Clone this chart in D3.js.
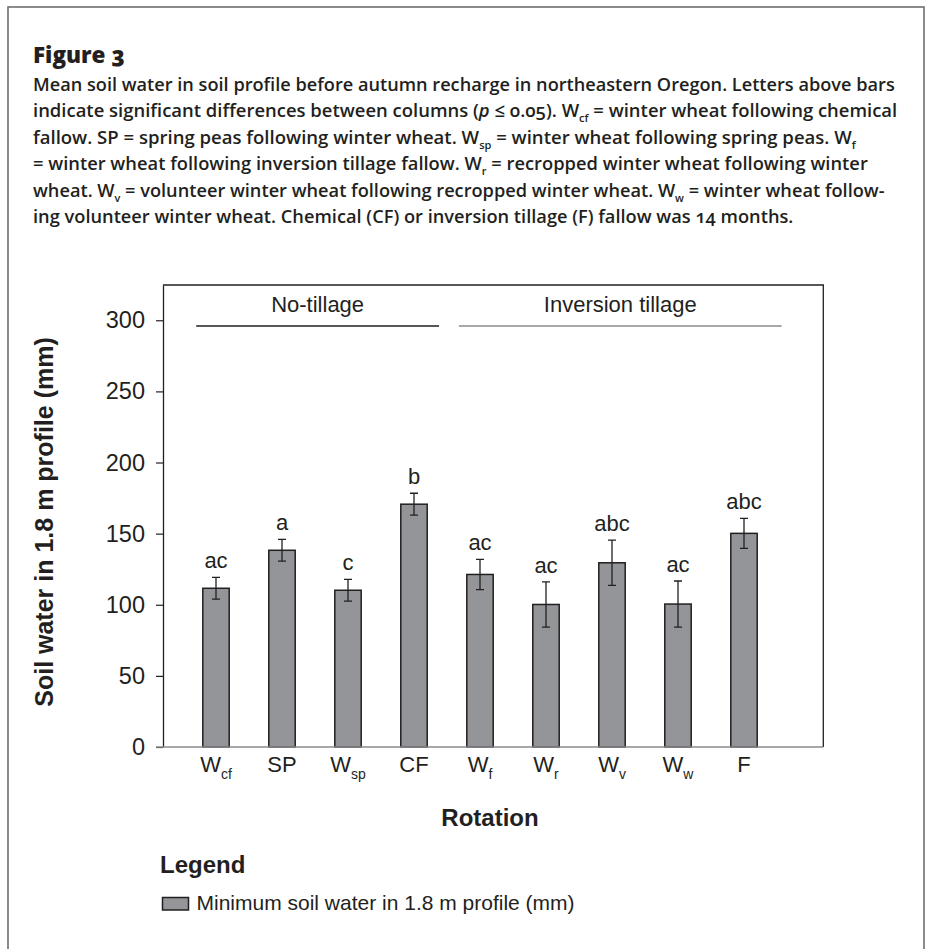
<!DOCTYPE html>
<html><head><meta charset="utf-8">
<script src="https://cdn.jsdelivr.net/npm/d3@7"></script>
<style>
body{margin:0;background:#fff}
svg{display:block}
</style>
</head><body>
<svg id="c" width="926" height="949"></svg>
<script>
// ---- data ----
const categories = ["Wcf","SP","Wsp","CF","Wf","Wr","Wv","Ww","F"];
const labelMain  = ["W","SP","W","CF","W","W","W","W","F"];
const labelSub   = ["cf","","sp","","f","r","v","w",""];
const values     = [111.6, 138.3, 110.2, 170.7, 121.3, 100.2, 129.5, 100.5, 150.2];
const errors     = [7.6, 7.6, 7.6, 7.7, 10.6, 15.9, 15.9, 16.2, 10.6];
const letters    = ["ac","a","c","b","ac","ac","abc","ac","abc"];
const yTicks     = [0, 50, 100, 150, 200, 250, 300];
const groupNames = ["No-tillage","Inversion tillage"];
const groupFirst = ["Wcf","Wf"];
const groupLast  = ["CF","F"];
const groupLineValue = 296;
const legendLabel = "Minimum soil water in 1.8 m profile (mm)";
const xTitle = "Rotation";
const yTitle = "Soil water in 1.8 m profile (mm)";
const figTitle = "Figure 3";
const captionLines = [
  [["Mean soil water in soil profile before autumn recharge in northeastern Oregon. Letters above bars","n"]],
  [["indicate significant differences between columns (","n"],["p","i"],[" \u2264 0.05). W","n"],["cf","s"],[" = winter wheat following chemical","n"]],
  [["fallow. SP = spring peas following winter wheat. W","n"],["sp","s"],[" = winter wheat following spring peas. W","n"],["f","s"]],
  [["= winter wheat following inversion tillage fallow. W","n"],["r","s"],[" = recropped winter wheat following winter","n"]],
  [["wheat. W","n"],["v","s"],[" = volunteer winter wheat following recropped winter wheat. W","n"],["w","s"],[" = winter wheat follow-","n"]],
  [["ing volunteer winter wheat. Chemical (CF) or inversion tillage (F) fallow was 14 months.","n"]]
];
const captionWidths = [862, 865, 823, 835, 852, 761];

// ---- layout ----
const ink = "#231f20";
const svg = d3.select("#c");
const plot = {left:163, right:823.3, top:285, bottom:747};

// outer border
svg.append("rect").attr("x",8).attr("y",7).attr("width",916).attr("height",1000)
  .attr("fill","none").attr("stroke","#6d6e71").attr("stroke-width",1.6);

function fit(sel, target){
  const w = sel.node().getComputedTextLength();
  return w > 0 ? target / w : 1;
}

// title
const t = svg.append("text").attr("font-family","'Open Sans','Noto Sans',sans-serif")
  .attr("font-weight",800).attr("font-size",22).attr("fill",ink)
  .style("font-variant-numeric","oldstyle-nums").text(figTitle);
t.attr("transform",`translate(33,63) scale(${fit(t,92)},1)`);

// caption
captionLines.forEach((segs,i)=>{
  const tx = svg.append("text").attr("font-family","'Open Sans','Noto Sans',sans-serif")
    .attr("font-weight",600).attr("font-size",18.5).attr("fill",ink)
    .style("font-variant-numeric","oldstyle-nums");
  let shifted = false;
  segs.forEach(([s,k])=>{
    const ts = tx.append("tspan").text(s);
    if(k==="s"){ ts.attr("font-size",11).attr("dy",5); shifted = true; }
    else { if(shifted){ ts.attr("dy",-5); shifted=false; } if(k==="i") ts.attr("font-style","italic"); }
  });
  const sx = fit(tx, captionWidths[i]);
  tx.attr("transform",`translate(33,${91 + i*26.4}) scale(${sx},1)`);
});

// scales
const x = d3.scaleBand().domain(categories).range([183,777]).paddingInner(0.6).paddingOuter(0.3);
const y = d3.scaleLinear().domain([0,324.8]).range([plot.bottom, plot.top]);

// frame (top, right)
svg.append("path").attr("d",`M${plot.left},${plot.top}H${plot.right}V${plot.bottom}`)
  .attr("fill","none").attr("stroke",ink).attr("stroke-width",1.3);

// y axis
const ya = svg.append("g").attr("transform",`translate(${plot.left},0)`)
  .call(d3.axisLeft(y).tickValues(yTicks).tickSize(7).tickPadding(11).tickSizeOuter(0));
ya.select(".domain").attr("stroke",ink).attr("stroke-width",1.3);
ya.selectAll(".tick line").attr("stroke",ink).attr("stroke-width",1.2);
ya.selectAll(".tick text").attr("font-family","'Liberation Sans',Arial,sans-serif")
  .attr("font-size",23.5).attr("fill",ink);

// bars
svg.append("g").selectAll("rect").data(categories).join("rect")
  .attr("x",d=>x(d)).attr("width",x.bandwidth())
  .attr("y",(d,i)=>y(values[i])).attr("height",(d,i)=>y(0)-y(values[i]))
  .attr("fill","#939598").attr("stroke",ink).attr("stroke-width",1.5);

// error bars
const eb = svg.append("g").attr("stroke",ink).attr("stroke-width",1.3).attr("fill","none");
categories.forEach((c,i)=>{
  const cx = x(c)+x.bandwidth()/2;
  const y1 = y(values[i]+errors[i]), y2 = y(values[i]-errors[i]);
  eb.append("path").attr("d",`M${cx},${y1}V${y2}M${cx-4},${y1}H${cx+4}M${cx-4},${y2}H${cx+4}`);
});

// significance letters
svg.append("g").selectAll("text").data(categories).join("text")
  .attr("x",d=>x(d)+x.bandwidth()/2)
  .attr("y",(d,i)=>y(values[i]+errors[i])-9)
  .attr("text-anchor","middle").attr("font-family","'Liberation Sans',Arial,sans-serif")
  .attr("font-size",22).attr("fill",ink).text((d,i)=>letters[i]);

// x axis
const xa = svg.append("g").attr("transform",`translate(0,${plot.bottom})`)
  .call(d3.axisBottom(x).tickSize(0).tickPadding(9));
xa.select(".domain").remove();
xa.selectAll(".tick text").each(function(d){
  const i = categories.indexOf(d);
  const s = d3.select(this).text(null).attr("font-family","'Liberation Sans',Arial,sans-serif")
    .attr("font-size",22).attr("fill",ink);
  s.append("tspan").text(labelMain[i]);
  if(labelSub[i]) s.append("tspan").attr("font-size",14).attr("dy",7).text(labelSub[i]);
});
svg.append("line").attr("x1",156).attr("x2",plot.right).attr("y1",plot.bottom).attr("y2",plot.bottom)
  .attr("stroke","#8a8b8d").attr("stroke-width",1.6);

// group lines and labels
const groupStyle = [{color:ink, padL:0.30, padR:0.38},{color:"#8a8b8d", padL:0.32, padR:0.57}];
groupNames.forEach((g,i)=>{
  const st = x.step();
  const c1 = x(groupFirst[i])+x.bandwidth()/2, c2 = x(groupLast[i])+x.bandwidth()/2;
  const x1 = c1 - groupStyle[i].padL*st, x2 = c2 + groupStyle[i].padR*st;
  const gy = y(groupLineValue);
  svg.append("line").attr("x1",x1).attr("x2",x2).attr("y1",gy).attr("y2",gy)
    .attr("stroke",groupStyle[i].color).attr("stroke-width",1.4);
  svg.append("text").attr("x",(x1+x2)/2).attr("y",gy-14).attr("text-anchor","middle")
    .attr("font-family","'Liberation Sans',Arial,sans-serif").attr("font-size",22).attr("fill",ink).text(g);
});

// axis titles
svg.append("text").attr("x",490).attr("y",826).attr("text-anchor","middle")
  .attr("font-family","'Liberation Sans',Arial,sans-serif").attr("font-weight","bold")
  .attr("font-size",24).attr("fill",ink).text(xTitle);
svg.append("text").attr("transform","translate(53,522) rotate(-90)").attr("text-anchor","middle")
  .attr("font-family","'Liberation Sans',Arial,sans-serif").attr("font-weight","bold")
  .attr("font-size",25).attr("fill",ink).text(yTitle);

// legend
svg.append("text").attr("x",160).attr("y",873)
  .attr("font-family","'Liberation Sans',Arial,sans-serif").attr("font-weight","bold")
  .attr("font-size",24).attr("fill",ink).text("Legend");
svg.append("rect").attr("x",162.5).attr("y",897.5).attr("width",26).attr("height",12.5)
  .attr("fill","#939598").attr("stroke",ink).attr("stroke-width",1.5);
svg.append("text").attr("x",196.5).attr("y",910)
  .attr("font-family","'Liberation Sans',Arial,sans-serif").attr("font-size",21).attr("fill",ink).text(legendLabel);
</script>
</body></html>
